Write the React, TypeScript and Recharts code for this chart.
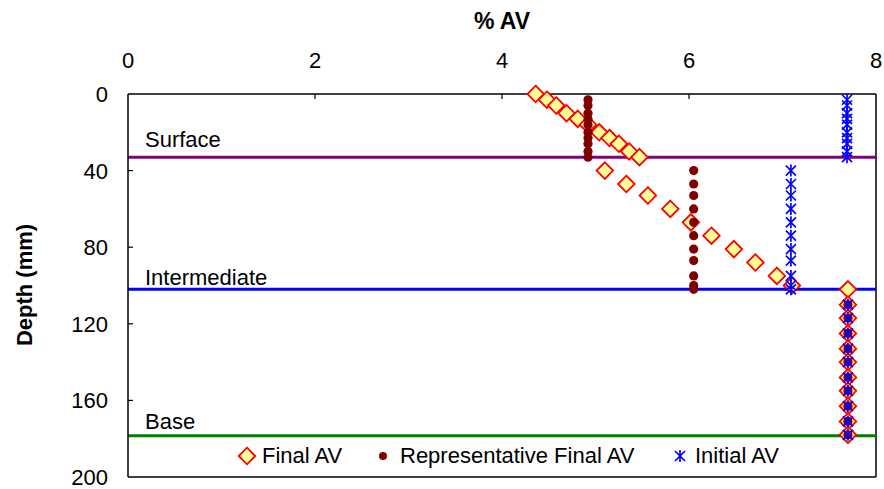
import React from 'react';
import { ScatterChart, Scatter, XAxis, YAxis, ReferenceLine } from 'recharts';

const xTicks = [0, 2, 4, 6, 8];
const yTicks = [0, 40, 80, 120, 160, 200];

const finalDepths = [
  0, 3, 6, 10, 13, 16, 20, 23, 26, 30, 33,
  40, 47, 53, 60, 67, 74, 81, 88, 95, 100,
  102, 110, 117, 125, 133, 140, 148, 155, 163, 171, 178,
];
const finalAV = [
  4.36, 4.48, 4.58, 4.69, 4.81, 4.92, 5.04, 5.15, 5.25, 5.36, 5.47,
  5.10, 5.33, 5.56, 5.80, 6.02, 6.24, 6.48, 6.71, 6.94, 7.10,
  7.70, 7.70, 7.70, 7.70, 7.70, 7.70, 7.70, 7.70, 7.70, 7.70, 7.70,
];

const repDepths = [
  3, 6, 10, 13, 16, 20, 23, 26, 30, 33,
  40, 47, 53, 60, 67, 74, 81, 87, 95, 100, 102,
  110, 117, 125, 133, 140, 148, 155, 163, 171, 178,
];
const repAV = [
  4.92, 4.92, 4.92, 4.92, 4.92, 4.92, 4.92, 4.92, 4.92, 4.92,
  6.05, 6.05, 6.05, 6.05, 6.05, 6.05, 6.05, 6.05, 6.05, 6.05, 6.05,
  7.70, 7.70, 7.70, 7.70, 7.70, 7.70, 7.70, 7.70, 7.70, 7.70,
];

const initialDepths = [
  3, 6, 10, 13, 16, 20, 23, 26, 30, 33,
  40, 47, 53, 60, 67, 74, 81, 87, 95, 100, 102,
  110, 117, 125, 133, 140, 148, 155, 163, 171, 178,
];
const initialAV = [
  7.69, 7.69, 7.69, 7.69, 7.69, 7.69, 7.69, 7.69, 7.69, 7.69,
  7.09, 7.09, 7.09, 7.09, 7.09, 7.09, 7.09, 7.09, 7.09, 7.09, 7.09,
  7.70, 7.70, 7.70, 7.70, 7.70, 7.70, 7.70, 7.70, 7.70, 7.70,
];

const layerNames = ['Surface', 'Intermediate', 'Base'];
const layerBottoms = [33, 102, 178.5];

const zip = (xs: number[], ys: number[]) => xs.map((x, i) => ({ x, y: ys[i] }));
const finalData = zip(finalAV, finalDepths);
const repData = zip(repAV, repDepths);
const initialData = zip(initialAV, initialDepths);

const FONT = '"Liberation Sans", Arial, sans-serif';
const PLOT_TOP = 94;
const PLOT_LEFT = 128;

const Diamond = (p: any) => {
  const { cx, cy } = p;
  const r = 8.3;
  return (
    <polygon
      points={`${cx},${cy - r} ${cx + r},${cy} ${cx},${cy + r} ${cx - r},${cy}`}
      fill="#FFFF99"
      stroke="#FF0000"
      strokeWidth={1.8}
    />
  );
};

const Dot = (p: any) => <circle cx={p.cx} cy={p.cy} r={4.6} fill="#800000" />;

const Star = (p: any) => {
  const { cx, cy } = p;
  const s = 5;
  return (
    <g stroke="#0000FF" strokeWidth={1.7}>
      <line x1={cx - s} y1={cy - s} x2={cx + s} y2={cy + s} />
      <line x1={cx - s} y1={cy + s} x2={cx + s} y2={cy - s} />
      <line x1={cx} y1={cy - s - 1} x2={cx} y2={cy + s + 1} />
    </g>
  );
};

const XTick = (p: any) => {
  const x = p.payload.coordinate;
  return (
    <g>
      {p.payload.value !== 0 && p.payload.value !== 8 && (
        <line x1={x} y1={PLOT_TOP} x2={x} y2={PLOT_TOP + 5} stroke="#000" strokeWidth={1.2} />
      )}
      <text x={x} y={68} textAnchor="middle" fontSize={22} fontFamily={FONT} fill="#000">
        {p.payload.value}
      </text>
    </g>
  );
};

const YTick = (p: any) => {
  const y = p.payload.coordinate;
  return (
    <g>
      {p.payload.value !== 0 && p.payload.value !== 200 && (
        <line x1={PLOT_LEFT} y1={y} x2={PLOT_LEFT + 5} y2={y} stroke="#000" strokeWidth={1.2} />
      )}
      <text x={108} y={y} dy={8} textAnchor="end" fontSize={22} fontFamily={FONT} fill="#000">
        {p.payload.value}
      </text>
    </g>
  );
};

const layerLabel = (name: string, lift: number) => (props: any) => {
  const vb = props.viewBox || {};
  return (
    <text x={(vb.x ?? PLOT_LEFT) + 17} y={(vb.y ?? 0) - lift} fontSize={22} fontFamily={FONT} fill="#000">
      {name}
    </text>
  );
};

export default function App() {
  const lineColors = ['#800080', '#0000FF', '#008000'];
  const lifts = [10, 4, 7];
  return (
    <div style={{ position: 'relative', width: 884, height: 489, fontFamily: FONT }}>
      <style>{`html,body{margin:0;padding:0;overflow:hidden;}`}</style>
      <ScatterChart width={884} height={489} margin={{ top: 54, right: 8, bottom: 12, left: 68 }}>
        <XAxis
          xAxisId={0}
          type="number"
          dataKey="x"
          orientation="top"
          domain={[0, 8]}
          ticks={xTicks}
          height={40}
          tickLine={false}
          axisLine={{ stroke: '#000', strokeWidth: 1.5 }}
          tick={<XTick />}
          label={{
            content: () => (
              <text x={502} y={29} textAnchor="middle" fontSize={23} fontWeight="bold" fontFamily={FONT} fill="#000">
                % AV
              </text>
            ),
          }}
        />
        <YAxis
          yAxisId={0}
          type="number"
          dataKey="y"
          domain={[0, 200]}
          reversed
          ticks={yTicks}
          width={60}
          tickLine={false}
          axisLine={{ stroke: '#000', strokeWidth: 1.5 }}
          tick={<YTick />}
          label={{
            content: () => (
              <text
                x={32}
                y={285}
                transform="rotate(-90 32 285)"
                textAnchor="middle"
                fontSize={22}
                fontWeight="bold"
                fontFamily={FONT}
                fill="#000"
              >
                Depth (mm)
              </text>
            ),
          }}
        />
        <ReferenceLine x={8} stroke="#000" strokeWidth={1.5} />
        <ReferenceLine y={200} stroke="#000" strokeWidth={1.5} />
        {layerBottoms.map((d, i) => (
          <ReferenceLine
            key={layerNames[i]}
            y={d}
            stroke={lineColors[i]}
            strokeWidth={3}
            label={layerLabel(layerNames[i], lifts[i])}
          />
        ))}
        <Scatter name="Final AV" data={finalData} shape={Diamond} isAnimationActive={false} />
        <Scatter name="Representative Final AV" data={repData} shape={Dot} isAnimationActive={false} />
        <Scatter name="Initial AV" data={initialData} shape={Star} isAnimationActive={false} />
      </ScatterChart>
      <div style={{ position: 'absolute', left: 0, top: 442, width: 884, height: 28, fontSize: 22, color: '#000' }}>
        <svg style={{ position: 'absolute', left: 237, top: 4 }} width={20} height={20}>
          <Diamond cx={10} cy={10} />
        </svg>
        <span style={{ position: 'absolute', left: 262, top: 0, lineHeight: '28px', whiteSpace: 'nowrap' }}>Final AV</span>
        <svg style={{ position: 'absolute', left: 373, top: 4 }} width={20} height={20}>
          <circle cx={10} cy={10} r={4} fill="#800000" />
        </svg>
        <span style={{ position: 'absolute', left: 400, top: 0, lineHeight: '28px', whiteSpace: 'nowrap' }}>
          Representative Final AV
        </span>
        <svg style={{ position: 'absolute', left: 670, top: 4 }} width={20} height={20}>
          <Star cx={10} cy={10} />
        </svg>
        <span style={{ position: 'absolute', left: 695, top: 0, lineHeight: '28px', whiteSpace: 'nowrap' }}>Initial AV</span>
      </div>
    </div>
  );
}
